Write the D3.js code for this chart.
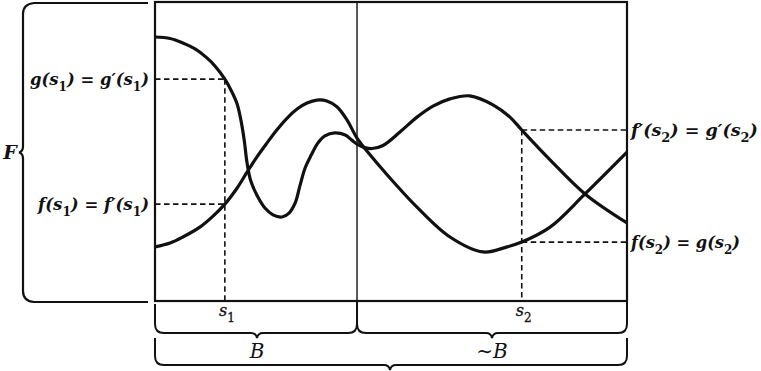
<!DOCTYPE html>
<html>
<head>
<meta charset="utf-8">
<script src="https://cdn.jsdelivr.net/npm/d3@7"></script>
<style>
  html, body { margin: 0; padding: 0; background: #fff; }
  svg { display: block; }
</style>
</head>
<body>
<svg id="chart" width="761" height="371"></svg>
<script>
// ---- data (x in "s" units 0..100, y in value units 0..100) ----
const curveA_s = [0, 3.2, 5.9, 8.5, 11.0, 12.7, 14.8, 16.3, 17.4, 18.2, 18.9, 19.5, 20.3, 21.6, 23.3, 25.0, 26.9, 28.4, 29.7, 30.7, 31.8, 33.1, 34.5, 36.0, 38.1, 40.3, 41.7, 42.8, 44.5, 46.0, 48.3, 51.9, 55.5, 58.9, 62.5, 66.7, 71.6, 75.2, 77.7, 83.7, 91.1, 100];
const curveA_v = [88.3, 87.8, 86.3, 84.3, 81.3, 78.6, 74.2, 69.9, 65.9, 60.5, 53.8, 46.2, 40.1, 35.4, 31.1, 28.8, 28.1, 29.4, 32.8, 38.5, 44.5, 48.8, 52.8, 55.2, 56.2, 55.5, 53.8, 52.5, 51.3, 51.0, 52.0, 56.5, 61.5, 65.2, 67.6, 68.6, 65.6, 61.5, 57.2, 47.2, 35.8, 26.1];
const curveB_s = [0, 3.2, 5.9, 9.5, 12.3, 14.8, 17.4, 19.5, 21.6, 23.7, 25.8, 28.0, 30.1, 32.2, 34.3, 36.4, 38.6, 40.7, 42.8, 45.6, 48.3, 55.5, 62.5, 69.5, 74.6, 77.7, 83.7, 91.1, 100];
const curveB_v = [18.1, 19.4, 21.4, 24.7, 28.4, 32.4, 37.8, 43.1, 48.2, 52.8, 57.2, 61.2, 64.2, 66.2, 67.2, 66.9, 64.9, 60.5, 54.5, 48.8, 43.8, 31.4, 21.4, 16.4, 18.1, 19.7, 24.7, 35.8, 49.8];

const boundary = 42.8;              // B | ~B
const sPoints = [14.8, 77.7];       // s1, s2
const sTickLabels = ["1", "2"];     // subscripts of s
const s1Levels = [74.2, 32.4];      // g(s1), f(s1)
const s2Levels = [57.2, 19.7];      // f'(s2), g(s2)
const leftLabels = [
  [["g(s", 0], ["1", 1], [") = g\u2032(s", 0], ["1", 1], [")", 0]],
  [["f(s", 0], ["1", 1], [") = f\u2032(s", 0], ["1", 1], [")", 0]]
];
const rightLabels = [
  [["f\u2032(s", 0], ["2", 1], [") = g\u2032(s", 0], ["2", 1], [")", 0]],
  [["f(s", 0], ["2", 1], [") = g(s", 0], ["2", 1], [")", 0]]
];
const leftLabelWidths = [119, 112];
const rightLabelWidths = [128, 110];
const braceLabels = ["B", "\u223CB"];

// ---- scales ----
const x = d3.scaleLinear().domain([0, 100]).range([155, 627]);
const y = d3.scaleLinear().domain([0, 100]).range([301, 2]);

const svg = d3.select("#chart");
const ink = "#111";
const serif = "'DejaVu Serif', 'Liberation Serif', serif";

// frame
svg.append("rect").attr("x", x(0)).attr("y", y(100)).attr("width", x(100) - x(0)).attr("height", y(0) - y(100))
  .attr("fill", "none").attr("stroke", ink).attr("stroke-width", 2.2);
svg.append("line").attr("x1", x(boundary)).attr("x2", x(boundary)).attr("y1", y(100)).attr("y2", y(0))
  .attr("stroke", ink).attr("stroke-width", 1.4);

// dashed guides
const dash = "5.5,3.5";
const g = svg.append("g").attr("stroke", ink).attr("stroke-width", 1.6).attr("stroke-dasharray", dash).attr("fill", "none");
g.append("line").attr("x1", x(sPoints[0])).attr("x2", x(sPoints[0])).attr("y1", y(s1Levels[0])).attr("y2", y(0));
s1Levels.forEach(v => g.append("line").attr("x1", x(0)).attr("x2", x(sPoints[0])).attr("y1", y(v)).attr("y2", y(v)));
g.append("line").attr("x1", x(sPoints[1])).attr("x2", x(sPoints[1])).attr("y1", y(s2Levels[0])).attr("y2", y(0));
s2Levels.forEach(v => g.append("line").attr("x1", x(sPoints[1])).attr("x2", x(100)).attr("y1", y(v)).attr("y2", y(v)));

// curves
const line = d3.line().x(d => x(d[0])).y(d => y(d[1])).curve(d3.curveCatmullRom.alpha(0.5));
[[curveA_s, curveA_v], [curveB_s, curveB_v]].forEach(([s, v]) => {
  svg.append("path").datum(s.map((d, i) => [d, v[i]])).attr("d", line)
    .attr("fill", "none").attr("stroke", ink).attr("stroke-width", 3.2).attr("stroke-linejoin", "round");
});

// left brace for F
const bx = 23, bTop = 3, bBot = 302, bMid = 152.5;
svg.append("path")
  .attr("d", `M148,${bTop} L34,${bTop} Q${bx},${bTop + 1} ${bx},${bTop + 11} L${bx},${bMid - 6} Q${bx},${bMid - 1} ${bx - 4},${bMid} Q${bx},${bMid + 1} ${bx},${bMid + 6} L${bx},${bBot - 11} Q${bx},${bBot - 1} 34,${bBot} L148,${bBot}`)
  .attr("fill", "none").attr("stroke", ink).attr("stroke-width", 2.2);
svg.append("text").attr("x", 10).attr("y", 159).attr("text-anchor", "middle")
  .attr("font-family", serif).attr("font-weight", "bold").attr("font-style", "italic").attr("font-size", 19)
  .attr("fill", ink).text("F");

// bottom braces
function hBrace(x0, x1, yt, yb, tipX) {
  const r = 9;
  return `M${x0},${yt} L${x0},${yb - r} Q${x0},${yb} ${x0 + r},${yb} L${tipX - 6},${yb} Q${tipX - 1},${yb} ${tipX},${yb + 5} Q${tipX + 1},${yb} ${tipX + 6},${yb} L${x1 - r},${yb} Q${x1},${yb} ${x1},${yb - r} L${x1},${yt}`;
}
const bg = svg.append("g").attr("fill", "none").attr("stroke", ink).attr("stroke-width", 2);
bg.append("path").attr("d", hBrace(x(0), x(boundary), 304, 333, (x(0) + x(boundary)) / 2 + 1));
bg.append("path").attr("d", hBrace(x(boundary), x(100), 302, 333, (x(boundary) + x(100)) / 2));
bg.append("path").attr("d", hBrace(x(0), x(100), 338, 365, (x(0) + x(100)) / 2 - 1));

braceLabels.forEach((t, i) => {
  const cx = i === 0 ? (x(0) + x(boundary)) / 2 + 1 : (x(boundary) + x(100)) / 2;
  svg.append("text").attr("x", cx).attr("y", 358).attr("text-anchor", "middle")
    .attr("font-family", serif).attr("font-style", "italic").attr("font-size", 20).attr("fill", ink).text(t);
});

// s tick labels
sPoints.forEach((s, i) => {
  const t = svg.append("text").attr("x", x(s) + 2).attr("y", 316).attr("text-anchor", "middle")
    .attr("font-family", serif).attr("font-style", "italic").attr("font-size", 16).attr("fill", ink)
    .attr("stroke", ink).attr("stroke-width", 0.3);
  t.append("tspan").text("s");
  t.append("tspan").attr("dy", 6).attr("font-style", "normal").attr("font-size", 12).text(sTickLabels[i]);
});

// value labels (natural text, horizontally scaled as a whole to the reference width)
function richLabel(parts, xPos, yPos, anchor, width) {
  const grp = svg.append("g");
  const t = grp.append("text").attr("x", 0).attr("y", 0).attr("text-anchor", anchor)
    .attr("font-family", serif).attr("font-weight", "bold").attr("font-style", "italic")
    .attr("font-size", 17).attr("fill", ink);
  let sub = false;
  parts.forEach(([txt, isSub]) => {
    const ts = t.append("tspan").text(txt);
    if (isSub && !sub) { ts.attr("dy", 6).attr("font-size", 12.5).attr("font-style", "normal"); sub = true; }
    else if (isSub) { ts.attr("font-size", 12.5).attr("font-style", "normal"); }
    else if (!isSub && sub) { ts.attr("dy", -6); sub = false; }
  });
  const w = t.node().getBBox().width || width;
  grp.attr("transform", `translate(${xPos},${yPos}) scale(${(width / w).toFixed(4)},1)`);
  return t;
}
leftLabels.forEach((p, i) => richLabel(p, 149, y(s1Levels[i]) + 6, "end", leftLabelWidths[i]));
rightLabels.forEach((p, i) => richLabel(p, 631, y(s2Levels[i]) + 6, "start", rightLabelWidths[i]));
</script>
</body>
</html>
